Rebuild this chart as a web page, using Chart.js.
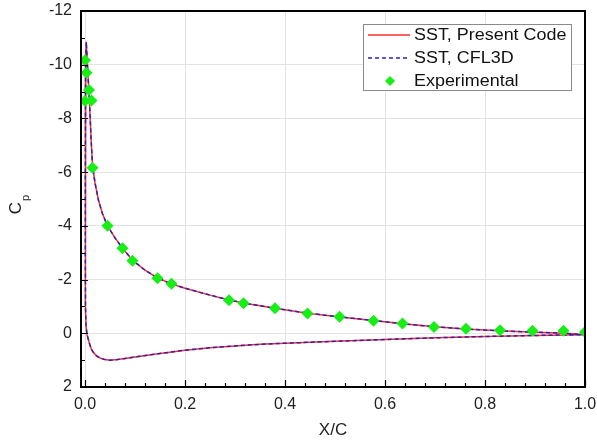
<!DOCTYPE html>
<html>
<head>
<meta charset="utf-8">
<script src="https://cdn.jsdelivr.net/npm/chart.js@4/dist/chart.umd.min.js"></script>
<style>
  html, body { margin: 0; padding: 0; background: #fff; }
</style>
</head>
<body>
<canvas id="cpChart" width="597" height="441"></canvas>
<script>
// SST curve, upper surface read from trailing edge to leading edge
var upperX = [1.0, 0.96, 0.9, 0.83, 0.76, 0.7, 0.64, 0.58, 0.51, 0.445, 0.38, 0.32, 0.288, 0.25, 0.2,
    0.173, 0.145, 0.12, 0.095, 0.075, 0.06, 0.045, 0.035, 0.027, 0.02, 0.015, 0.012, 0.009, 0.006, 0.004, 0.0025];
var upperCp = [0.05, 0.0, -0.04, -0.09, -0.16, -0.24, -0.35, -0.47, -0.61, -0.75, -0.93, -1.12, -1.24, -1.42, -1.68,
    -1.84, -2.06, -2.35, -2.72, -3.17, -3.55, -4.0, -4.45, -4.95, -5.6, -6.25, -7.3, -8.6, -9.6, -10.3, -10.85];

// lower surface, leading edge -> trailing edge
var lowerX = [0.0015, 0.001, 0.0006, 0.0006, 0.001, 0.002, 0.004, 0.007, 0.01, 0.013, 0.017, 0.023, 0.03, 0.04, 0.05,
    0.065, 0.08, 0.1, 0.15, 0.2, 0.25, 0.3, 0.35, 0.4, 0.5, 0.6, 0.7, 0.8, 0.9, 1.0];
var lowerCp = [-10.2, -8.5, -6.0, -3.0, -1.0, -0.3, 0.05, 0.25, 0.45, 0.6, 0.72, 0.84, 0.92, 0.98, 1.0,
    0.98, 0.94, 0.88, 0.75, 0.63, 0.54, 0.47, 0.41, 0.37, 0.3, 0.23, 0.17, 0.12, 0.08, 0.05];

// experimental points
var expX = [0.0, 0.003, 0.008, 0.0, 0.013, 0.015, 0.045, 0.075, 0.095, 0.145, 0.173, 0.288, 0.317,
    0.38, 0.445, 0.509, 0.577, 0.635, 0.698, 0.762, 0.83, 0.895, 0.957, 1.0];
var expCp = [-10.17, -9.7, -9.06, -8.65, -8.67, -6.16, -4.0, -3.17, -2.7, -2.05, -1.84, -1.23, -1.12,
    -0.93, -0.74, -0.62, -0.47, -0.36, -0.23, -0.17, -0.11, -0.09, -0.09, -0.05];

var xTicks = [0.0, 0.2, 0.4, 0.6, 0.8, 1.0];
var yTicks = [-12, -10, -8, -6, -4, -2, 0, 2];

var FONT = '"Liberation Sans", Arial, sans-serif';

var sst = [];
upperX.forEach(function (x, i) { sst.push({ x: x, y: upperCp[i] }); });
lowerX.forEach(function (x, i) { sst.push({ x: x, y: lowerCp[i] }); });
var expPts = expX.map(function (x, i) { return { x: x, y: expCp[i] }; });

// frame, inward ticks, axis titles and the boxed legend
var decor = {
    id: 'decor',
    afterDraw: function (chart) {
        var c = chart.ctx, a = chart.chartArea;
        var xs = chart.scales.x, ys = chart.scales.y;
        c.save();
        c.strokeStyle = '#000';
        c.lineWidth = 1.2;
        c.beginPath();
        // x ticks on bottom
        for (var k = 0; k <= 25; k++) {
            var v = k * 0.04;
            var px = Math.round(xs.getPixelForValue(v)) + 0.5;
            var len = (k % 5 === 0) ? 7 : 4;
            c.moveTo(px, a.bottom);
            c.lineTo(px, a.bottom - len);
        }
        // y ticks on left
        for (var j = -12; j <= 2; j++) {
            var py = Math.round(ys.getPixelForValue(j)) + 0.5;
            var ln = (j % 2 === 0) ? 7 : 4;
            c.moveTo(a.left, py);
            c.lineTo(a.left + ln, py);
        }
        c.stroke();

        c.lineWidth = 2;
        c.strokeRect(a.left, a.top, a.right - a.left, a.bottom - a.top);

        // axis titles
        c.fillStyle = '#222';
        c.font = '17px ' + FONT;
        c.textAlign = 'center';
        c.textBaseline = 'middle';
        c.fillText('X/C', (a.left + a.right) / 2, 430);

        c.translate(16, 208);
        c.rotate(-Math.PI / 2);
        c.font = '17px ' + FONT;
        c.fillText('C', 0, 0);
        c.font = '11px ' + FONT;
        c.fillText('p', 10, 10);
        c.setTransform(1, 0, 0, 1, 0, 0);

        // legend
        var lx = 363, ly = 24, lw = 208, lh = 66;
        c.fillStyle = '#fff';
        c.fillRect(lx, ly, lw, lh);
        c.strokeStyle = '#8a8a8a';
        c.lineWidth = 1;
        c.strokeRect(lx + 0.5, ly + 0.5, lw, lh);

        var ds = chart.data.datasets;
        var rows = [35, 58, 81];
        c.textAlign = 'left';
        c.textBaseline = 'middle';
        for (var r = 0; r < 3; r++) {
            var y = rows[r];
            if (r < 2) {
                c.strokeStyle = ds[r].borderColor;
                c.lineWidth = 1.5;
                c.setLineDash(ds[r].borderDash || []);
                c.beginPath();
                c.moveTo(368, y);
                c.lineTo(410, y);
                c.stroke();
                c.setLineDash([]);
            } else {
                c.fillStyle = ds[r].backgroundColor;
                c.beginPath();
                c.moveTo(390, y - 5);
                c.lineTo(395, y);
                c.lineTo(390, y + 5);
                c.lineTo(385, y);
                c.closePath();
                c.fill();
            }
            c.save();
            c.translate(414, y + 1);
            c.scale(1.12, 1);
            c.font = '16px ' + FONT;
            c.fillStyle = '#111';
            c.fillText(ds[r].label, 0, 0);
            c.restore();
        }
        c.restore();
    }
};

var ctx = document.getElementById('cpChart').getContext('2d');
var cpChart = new Chart(ctx, {
    type: 'scatter',
    data: {
        datasets: [{
            label: 'SST, Present Code',
            data: sst,
            showLine: true,
            borderColor: '#ff2b2b',
            borderWidth: 1.5,
            pointRadius: 0,
            order: 3
        }, {
            label: 'SST, CFL3D',
            data: sst,
            showLine: true,
            borderColor: '#2424b8',
            borderDash: [4, 3],
            borderWidth: 1.5,
            pointRadius: 0,
            order: 2
        }, {
            label: 'Experimental',
            data: expPts,
            pointStyle: 'rectRot',
            pointRadius: 6,
            backgroundColor: '#16ee16',
            borderWidth: 0,
            order: 1
        }]
    },
    options: {
        responsive: false,
        animation: false,
        devicePixelRatio: 1,
        layout: { padding: { left: 0, right: 12, top: 11, bottom: 0 } },
        plugins: {
            legend: { display: false },
            tooltip: { enabled: false }
        },
        scales: {
            x: {
                type: 'linear',
                min: -0.008,
                max: 1.0,
                afterBuildTicks: function (s) {
                    s.ticks = xTicks.map(function (v) { return { value: v }; });
                },
                afterFit: function (s) {
                    s.height = 54;
                    s.paddingLeft = 0;
                    s.paddingRight = 0;
                },
                ticks: {
                    padding: 8,
                    color: '#222',
                    font: { family: FONT, size: 16 },
                    callback: function (v) { return Number(v).toFixed(1); }
                },
                grid: { color: '#e3e3e3', drawTicks: false },
                border: { display: false }
            },
            y: {
                type: 'linear',
                reverse: true,
                min: -12,
                max: 2,
                afterBuildTicks: function (s) {
                    s.ticks = yTicks.map(function (v) { return { value: v }; });
                },
                afterFit: function (s) {
                    s.width = 81;
                    s.paddingTop = 0;
                    s.paddingBottom = 0;
                },
                ticks: {
                    padding: 9,
                    color: '#222',
                    font: { family: FONT, size: 16 }
                },
                grid: { color: '#e3e3e3', drawTicks: false },
                border: { display: false }
            }
        }
    },
    plugins: [decor]
});
</script>
</body>
</html>
